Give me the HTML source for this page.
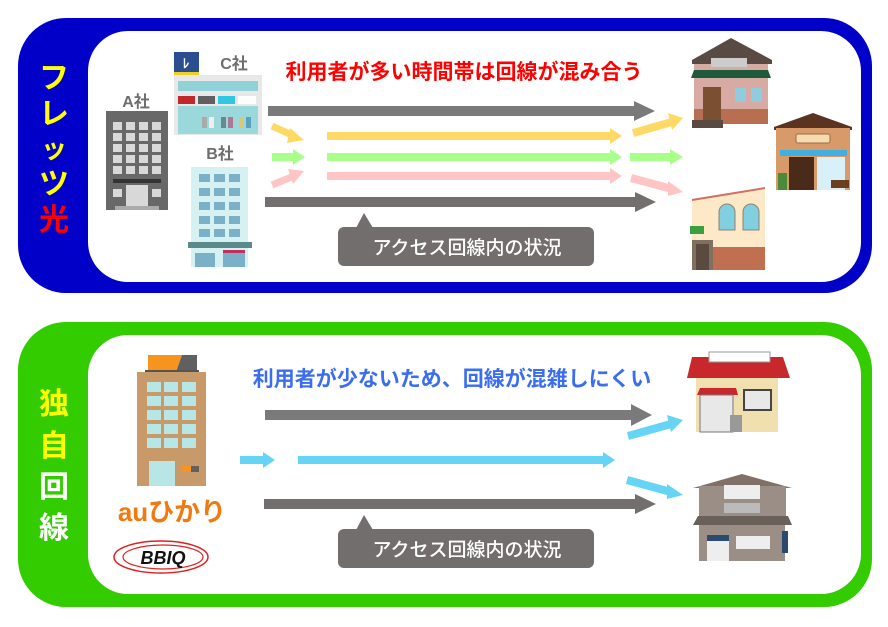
<!DOCTYPE html>
<html><head><meta charset="utf-8"><style>
html,body{margin:0;padding:0;background:#fff;}
svg{display:block;}
text{font-family:"Liberation Sans","Noto Sans CJK JP",sans-serif;font-weight:bold;}
</style></head><body>
<svg width="888" height="627" viewBox="0 0 888 627" xmlns="http://www.w3.org/2000/svg">
<!-- TOP PANEL -->
<rect x="18" y="18" width="854" height="275" rx="48" fill="#0000c8"/>
<rect x="88" y="31" width="773" height="251" rx="40" fill="#fff"/>
<text x="54" y="88" font-size="30" fill="#ffff00" text-anchor="middle">フ</text>
<text x="54" y="124" font-size="30" fill="#ffff00" text-anchor="middle">レ</text>
<text x="54" y="158" font-size="26" fill="#ffff00" text-anchor="middle">ッ</text>
<text x="54" y="194" font-size="30" fill="#ffff00" text-anchor="middle">ツ</text>
<text x="54" y="230" font-size="30" fill="#ff0000" text-anchor="middle">光</text>

<text x="464" y="79" font-size="21" fill="#ff0000" text-anchor="middle">利用者が多い時間帯は回線が混み合う</text>

<!-- A building -->
<text x="136" y="107" font-size="16" fill="#6e6e6e" text-anchor="middle">A社</text>
<rect x="106" y="111" width="62" height="99" fill="#686868"/>
<g fill="#d8d8d8">
<rect x="113" y="122" width="9" height="8"/><rect x="126" y="122" width="9" height="8"/><rect x="139" y="122" width="9" height="8"/><rect x="152" y="122" width="9" height="8"/>
<rect x="113" y="133" width="9" height="8"/><rect x="126" y="133" width="9" height="8"/><rect x="139" y="133" width="9" height="8"/><rect x="152" y="133" width="9" height="8"/>
<rect x="113" y="144" width="9" height="8"/><rect x="126" y="144" width="9" height="8"/><rect x="139" y="144" width="9" height="8"/><rect x="152" y="144" width="9" height="8"/>
<rect x="113" y="155" width="9" height="8"/><rect x="126" y="155" width="9" height="8"/><rect x="139" y="155" width="9" height="8"/><rect x="152" y="155" width="9" height="8"/>
<rect x="113" y="166" width="9" height="8"/><rect x="126" y="166" width="9" height="8"/><rect x="139" y="166" width="9" height="8"/><rect x="152" y="166" width="9" height="8"/>
<rect x="113" y="189" width="9" height="8"/><rect x="152" y="189" width="9" height="8"/>
<rect x="126" y="185" width="22" height="25"/>
</g>
<rect x="113" y="179" width="48" height="4" fill="#333"/>
<rect x="115" y="206" width="44" height="4" fill="#aaa"/>
<!-- C store -->
<rect x="174" y="52" width="25" height="20" fill="#2a4e90"/>
<rect x="174" y="72" width="25" height="4" fill="#f0d020"/>
<text x="186" y="68" font-size="13" fill="#fff" text-anchor="middle">ﾚ</text>
<text x="234" y="69" font-size="16" fill="#6e6e6e" text-anchor="middle">C社</text>
<rect x="174" y="75" width="88" height="60" fill="#e8e8e8"/>
<rect x="178" y="81" width="80" height="10" fill="#8fd3d8"/>
<rect x="178" y="96" width="17" height="8" fill="#c0282c"/><rect x="198" y="96" width="17" height="8" fill="#606060"/><rect x="218" y="96" width="17" height="8" fill="#30c8e0"/><rect x="238" y="96" width="18" height="8" fill="#fff"/>
<rect x="178" y="106" width="80" height="28" fill="#9ad8dc"/>
<rect x="202" y="117" width="5" height="11" fill="#aaa"/><rect x="209" y="117" width="5" height="11" fill="#eee"/><rect x="221" y="117" width="5" height="11" fill="#6a8890"/><rect x="228" y="117" width="5" height="11" fill="#b07890"/><rect x="239" y="117" width="5" height="11" fill="#e0c870"/><rect x="246" y="117" width="5" height="11" fill="#5aa0c0"/>
<!-- B building -->
<text x="220" y="159" font-size="16" fill="#6e6e6e" text-anchor="middle">B社</text>
<rect x="191" y="167" width="57" height="76" fill="#d6f1f2"/>
<g fill="#7ab0c8">
<rect x="199" y="174" width="11" height="8"/><rect x="214" y="174" width="11" height="8"/><rect x="229" y="174" width="11" height="8"/>
<rect x="199" y="188" width="11" height="8"/><rect x="214" y="188" width="11" height="8"/><rect x="229" y="188" width="11" height="8"/>
<rect x="199" y="202" width="11" height="8"/><rect x="214" y="202" width="11" height="8"/><rect x="229" y="202" width="11" height="8"/>
<rect x="199" y="216" width="11" height="8"/><rect x="214" y="216" width="11" height="8"/><rect x="229" y="216" width="11" height="8"/>
<rect x="199" y="229" width="11" height="8"/><rect x="214" y="229" width="11" height="8"/><rect x="229" y="229" width="11" height="8"/>
</g>
<rect x="188" y="242" width="64" height="6" fill="#5a8a8a"/>
<rect x="191" y="248" width="57" height="19" fill="#d6f1f2"/>
<rect x="195" y="253" width="20" height="14" fill="#7ab0c8"/><rect x="223" y="252" width="22" height="15" fill="#7ab0c8"/>
<rect x="223" y="250" width="22" height="3" fill="#c03060"/>

<!-- top arrows -->
<g>
<rect x="268" y="106" width="368" height="10" fill="#7a7a7a"/><polygon points="634,101 655,111 634,121" fill="#7a7a7a"/>
<rect x="265" y="197" width="372" height="10" fill="#736f6e"/><polygon points="635,192 656,202 635,212" fill="#736f6e"/>
<rect x="327" y="132" width="285" height="8" fill="#ffd966"/><polygon points="610,128 622,136 610,144" fill="#ffd966"/>
<rect x="327" y="153" width="285" height="8" fill="#a8ff8a"/><polygon points="610,149 622,157 610,165" fill="#a8ff8a"/>
<rect x="327" y="172" width="285" height="8" fill="#ffc4c4"/><polygon points="610,168 622,176 610,184" fill="#ffc4c4"/>
<line x1="272" y1="126" x2="294" y2="136" stroke="#ffd966" stroke-width="7"/><polygon points="290,128 304,140 287,143" fill="#ffd966"/>
<rect x="272" y="153" width="22" height="8" fill="#a8ff8a"/><polygon points="293,149 305,157 293,165" fill="#a8ff8a"/>
<line x1="272" y1="185" x2="294" y2="176" stroke="#ffc4c4" stroke-width="7"/><polygon points="288,169 304,171 293,184" fill="#ffc4c4"/>
<line x1="633" y1="133" x2="672" y2="122" stroke="#ffd966" stroke-width="8"/><polygon points="668,113 683,118 672,130" fill="#ffd966"/>
<rect x="630" y="153" width="42" height="8" fill="#a8ff8a"/><polygon points="670,149 683,157 670,165" fill="#a8ff8a"/>
<line x1="631" y1="178" x2="672" y2="189" stroke="#ffc4c4" stroke-width="8"/><polygon points="668,181 683,192 668,196" fill="#ffc4c4"/>
</g>
<rect x="338" y="227" width="256" height="39" rx="6" fill="#726e6d"/>
<polygon points="356,228 364,213 373,228" fill="#726e6d"/>
<text x="467" y="254" font-size="19" fill="#fff" text-anchor="middle" style="font-weight:500">アクセス回線内の状況</text>

<!-- houses top -->
<polygon points="692,60 731,38 772,60 772,64 692,64" fill="#5a4a44"/>
<rect x="694" y="64" width="74" height="60" fill="#d8aaa4"/>
<rect x="711" y="58" width="36" height="9" fill="#ccc"/>
<polygon points="694,70 768,70 771,78 691,78" fill="#1e5a3c"/>
<rect x="694" y="109" width="74" height="15" fill="#b86e50"/>
<rect x="703" y="87" width="18" height="33" fill="#7a5030"/>
<rect x="735" y="88" width="11" height="14" fill="#90cce0"/><rect x="751" y="88" width="11" height="14" fill="#90cce0"/>
<rect x="692" y="120" width="31" height="8" fill="#5a4a44"/>

<polygon points="774,127 813,113 852,127 852,130 774,130" fill="#5a3420"/>
<rect x="776" y="128" width="74" height="62" fill="#d89a68"/>
<rect x="796" y="134" width="34" height="9" rx="2" fill="#f4dcb0" stroke="#a06a40"/>
<rect x="780" y="150" width="67" height="6" fill="#40b0e0"/>
<rect x="789" y="157" width="25" height="33" fill="#4a2a18"/>
<rect x="817" y="157" width="28" height="33" fill="#d8f0f8"/>
<rect x="778" y="173" width="9" height="17" fill="#4a8a3a"/>
<rect x="831" y="180" width="18" height="8" fill="#6a4020"/>

<polygon points="692,200 765,188 765,270 692,270" fill="#fde8c8"/>
<line x1="692" y1="200" x2="765" y2="188" stroke="#d07060" stroke-width="2"/>
<path d="M719,230 v-18 a8,8 0 0 1 16,0 v18 z" fill="#80d0e0" stroke="#908070"/>
<path d="M743,230 v-18 a8,8 0 0 1 16,0 v18 z" fill="#80d0e0" stroke="#908070"/>
<rect x="712" y="247" width="53" height="23" fill="#c07050"/>
<rect x="692" y="240" width="21" height="30" fill="#807060"/>
<rect x="696" y="244" width="13" height="26" fill="#5a4a40"/>
<rect x="690" y="226" width="14" height="8" fill="#38a040"/>

<!-- BOTTOM PANEL -->
<rect x="18" y="322" width="854" height="285" rx="48" fill="#33cc00"/>
<rect x="88" y="335" width="773" height="259" rx="40" fill="#fff"/>
<text x="54" y="414" font-size="30" fill="#ffff00" text-anchor="middle">独</text>
<text x="54" y="456" font-size="30" fill="#ffff00" text-anchor="middle">自</text>
<text x="54" y="497" font-size="30" fill="#ffffff" text-anchor="middle">回</text>
<text x="54" y="538" font-size="30" fill="#ffffff" text-anchor="middle">線</text>

<text x="452" y="386" font-size="21" fill="#3a6df0" text-anchor="middle">利用者が少ないため、回線が混雑しにくい</text>

<polygon points="148,355 182,355 176,372 148,372" fill="#f7941d"/>
<polygon points="182,355 197,355 197,372 176,372" fill="#606060"/>
<rect x="145" y="370" width="54" height="3" fill="#555"/>
<rect x="137" y="372" width="69" height="114" fill="#c89a6a"/>
<g fill="#b8e6e6">
<rect x="147" y="382" width="14" height="10"/><rect x="164" y="382" width="14" height="10"/><rect x="182" y="382" width="14" height="10"/>
<rect x="147" y="396" width="14" height="10"/><rect x="164" y="396" width="14" height="10"/><rect x="182" y="396" width="14" height="10"/>
<rect x="147" y="410" width="14" height="10"/><rect x="164" y="410" width="14" height="10"/><rect x="182" y="410" width="14" height="10"/>
<rect x="147" y="424" width="14" height="10"/><rect x="164" y="424" width="14" height="10"/><rect x="182" y="424" width="14" height="10"/>
<rect x="147" y="438" width="14" height="10"/><rect x="164" y="438" width="14" height="10"/><rect x="182" y="438" width="14" height="10"/>
<rect x="149" y="461" width="26" height="25"/>
</g>
<rect x="182" y="466" width="9" height="6" fill="#f7941d"/><rect x="191" y="466" width="8" height="6" fill="#606060"/>
<text x="172" y="521" font-size="26" fill="#f07a10" text-anchor="middle">auひかり</text>
<ellipse cx="161" cy="557" rx="47" ry="16" fill="none" stroke="#e02020" stroke-width="1.5"/>
<ellipse cx="163" cy="557" rx="40" ry="12" fill="none" stroke="#e02020" stroke-width="1.2"/>
<text x="163" y="564" font-size="18" fill="#111" text-anchor="middle" font-style="italic" style="font-family:'Liberation Sans',sans-serif;font-weight:900">BBIQ</text>

<rect x="265" y="410" width="368" height="10" fill="#7a7a7a"/><polygon points="631,404 652,415 631,426" fill="#7a7a7a"/>
<rect x="264" y="499" width="373" height="10" fill="#736f6e"/><polygon points="635,494 656,504 635,514" fill="#736f6e"/>
<rect x="298" y="456" width="306" height="8" fill="#66d4f4"/><polygon points="603,452 615,460 603,468" fill="#66d4f4"/>
<rect x="240" y="456" width="24" height="8" fill="#66d4f4"/><polygon points="263,452 275,460 263,468" fill="#66d4f4"/>
<line x1="628" y1="436" x2="671" y2="424" stroke="#66d4f4" stroke-width="8"/><polygon points="667,415 683,420 671,432" fill="#66d4f4"/>
<line x1="627" y1="480" x2="671" y2="492" stroke="#66d4f4" stroke-width="8"/><polygon points="667,484 683,495 667,499" fill="#66d4f4"/>

<rect x="338" y="529" width="256" height="39" rx="6" fill="#726e6d"/>
<polygon points="356,530 364,515 373,530" fill="#726e6d"/>
<text x="467" y="556" font-size="19" fill="#fff" text-anchor="middle" style="font-weight:500">アクセス回線内の状況</text>

<rect x="696" y="371" width="82" height="61" fill="#f0e0b0"/>
<polygon points="687,378 692,357 783,357 790,378" fill="#c8282c"/>
<rect x="709" y="352" width="61" height="10" fill="#fff" stroke="#999"/>
<polygon points="697,395 700,388 736,388 738,395" fill="#c8282c"/>
<rect x="700" y="395" width="33" height="37" fill="#e8e8e8" stroke="#777"/>
<rect x="744" y="390" width="27" height="20" fill="#e8e8e8" stroke="#444" stroke-width="2"/>
<rect x="730" y="415" width="12" height="17" fill="#999"/>

<polygon points="693,488 742,474 792,488" fill="#807068"/>
<rect x="699" y="486" width="87" height="36" fill="#9a8e86"/>
<rect x="724" y="485" width="36" height="14" fill="#eee"/>
<rect x="724" y="503" width="36" height="10" fill="#bbb"/>
<polygon points="698,516 788,516 792,525 693,525" fill="#6a605a"/>
<rect x="699" y="525" width="86" height="36" fill="#9a8e86"/>
<rect x="707" y="535" width="22" height="26" fill="#eee"/>
<rect x="707" y="535" width="22" height="6" fill="#2a4a70"/>
<rect x="736" y="536" width="34" height="13" fill="#eee"/>
<rect x="782" y="531" width="6" height="22" fill="#2a4a70"/>
</svg>
</body></html>
